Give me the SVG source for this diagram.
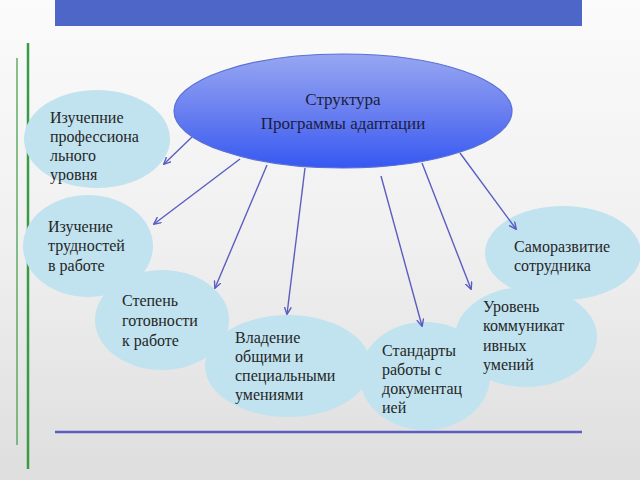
<svg xmlns="http://www.w3.org/2000/svg" width="640" height="480" viewBox="0 0 640 480">
<defs>
<linearGradient id="bg" x1="0" y1="0" x2="0" y2="1">
<stop offset="0" stop-color="#fbfbfb"/>
<stop offset="0.5" stop-color="#f0f0f0"/>
<stop offset="1" stop-color="#dedede"/>
</linearGradient>
<linearGradient id="main" x1="0" y1="0" x2="0" y2="1">
<stop offset="0" stop-color="#97a6f2"/>
<stop offset="0.5" stop-color="#6a80f0"/>
<stop offset="1" stop-color="#3658f2"/>
</linearGradient>
<marker id="ah" markerWidth="8" markerHeight="8" refX="7" refY="4" orient="auto" markerUnits="userSpaceOnUse">
<path d="M0,0.5 L7.5,4 L0,7.5" fill="none" stroke="#5a5ec0" stroke-width="1.4"/>
</marker>
</defs>
<style>
.bub{fill:#c0e3ef;}
.t{font-size:16px;fill:#262626;}
.mt{font-size:17px;fill:#1b1d3c;text-anchor:middle;}
.c{stroke:#5a5ec0;stroke-width:1.4;fill:none;marker-end:url(#ah);}
</style>
<rect x="0" y="0" width="640" height="480" fill="url(#bg)"/>
<rect x="55" y="0" width="527" height="26" fill="#4e66c8"/>
<line x1="28" y1="43" x2="28" y2="469" stroke="#3a9a46" stroke-width="2.5"/>
<line x1="17" y1="58" x2="17" y2="445" stroke="#4aa050" stroke-width="1.3"/>
<line x1="55" y1="432" x2="582" y2="432" stroke="#5a5ec0" stroke-width="2.5"/>
<g font-family="Liberation Serif, DejaVu Serif, serif">
<g id="node-prof">
<ellipse class="bub" cx="97" cy="139" rx="73" ry="49"/>
<text class="t" x="50" y="123">Изучепние</text>
<text class="t" x="50" y="142">профессиона</text>
<text class="t" x="50" y="161">льного</text>
<text class="t" x="50" y="180">уровня</text>
</g>
<g id="node-trud">
<ellipse class="bub" cx="88" cy="246" rx="65" ry="51"/>
<text class="t" x="48" y="232">Изучение</text>
<text class="t" x="48" y="251">трудностей</text>
<text class="t" x="48" y="271">в работе</text>
</g>
<g id="node-stepen">
<ellipse class="bub" cx="162" cy="320" rx="67" ry="50"/>
<text class="t" x="122" y="306">Степень</text>
<text class="t" x="122" y="326">готовности</text>
<text class="t" x="122" y="346">к работе</text>
</g>
<g id="node-vladenie">
<ellipse class="bub" cx="288" cy="366" rx="83" ry="51"/>
<text class="t" x="235" y="343">Владение</text>
<text class="t" x="235" y="362">общими и</text>
<text class="t" x="235" y="381">специальными</text>
<text class="t" x="235" y="400">умениями</text>
</g>
<g id="node-standart">
<ellipse class="bub" cx="425" cy="376" rx="65" ry="54"/>
<text class="t" x="382" y="356">Стандарты</text>
<text class="t" x="382" y="375">работы с</text>
<text class="t" x="382" y="394">документац</text>
<text class="t" x="382" y="413">ией</text>
</g>
<g id="node-samorazv">
<ellipse class="bub" cx="563" cy="253" rx="78" ry="47"/>
<text class="t" x="514" y="252">Саморазвитие</text>
<text class="t" x="514" y="271">сотрудника</text>
</g>
<g id="node-uroven">
<ellipse class="bub" cx="526" cy="337" rx="71" ry="50"/>
<text class="t" x="483" y="312">Уровень</text>
<text class="t" x="483" y="331">коммуникат</text>
<text class="t" x="483" y="351">ивных</text>
<text class="t" x="483" y="370">умений</text>
</g>
<g id="node-main">
<ellipse cx="343" cy="111" rx="169" ry="57" fill="url(#main)" stroke="#5b6fd6" stroke-width="1.2"/>
<text class="mt" x="343" y="105">Структура</text>
<text class="mt" x="343" y="129">Программы адаптации</text>
</g>
</g>
<g id="connectors">
<line class="c" x1="192" y1="137" x2="164" y2="164"/>
<line class="c" x1="240" y1="159" x2="154" y2="224"/>
<line class="c" x1="267" y1="165" x2="215" y2="288"/>
<line class="c" x1="305" y1="168" x2="287" y2="314"/>
<line class="c" x1="381" y1="176" x2="422" y2="326"/>
<line class="c" x1="422" y1="163" x2="471" y2="289"/>
<line class="c" x1="460" y1="153" x2="516" y2="229"/>
</g>
</svg>
